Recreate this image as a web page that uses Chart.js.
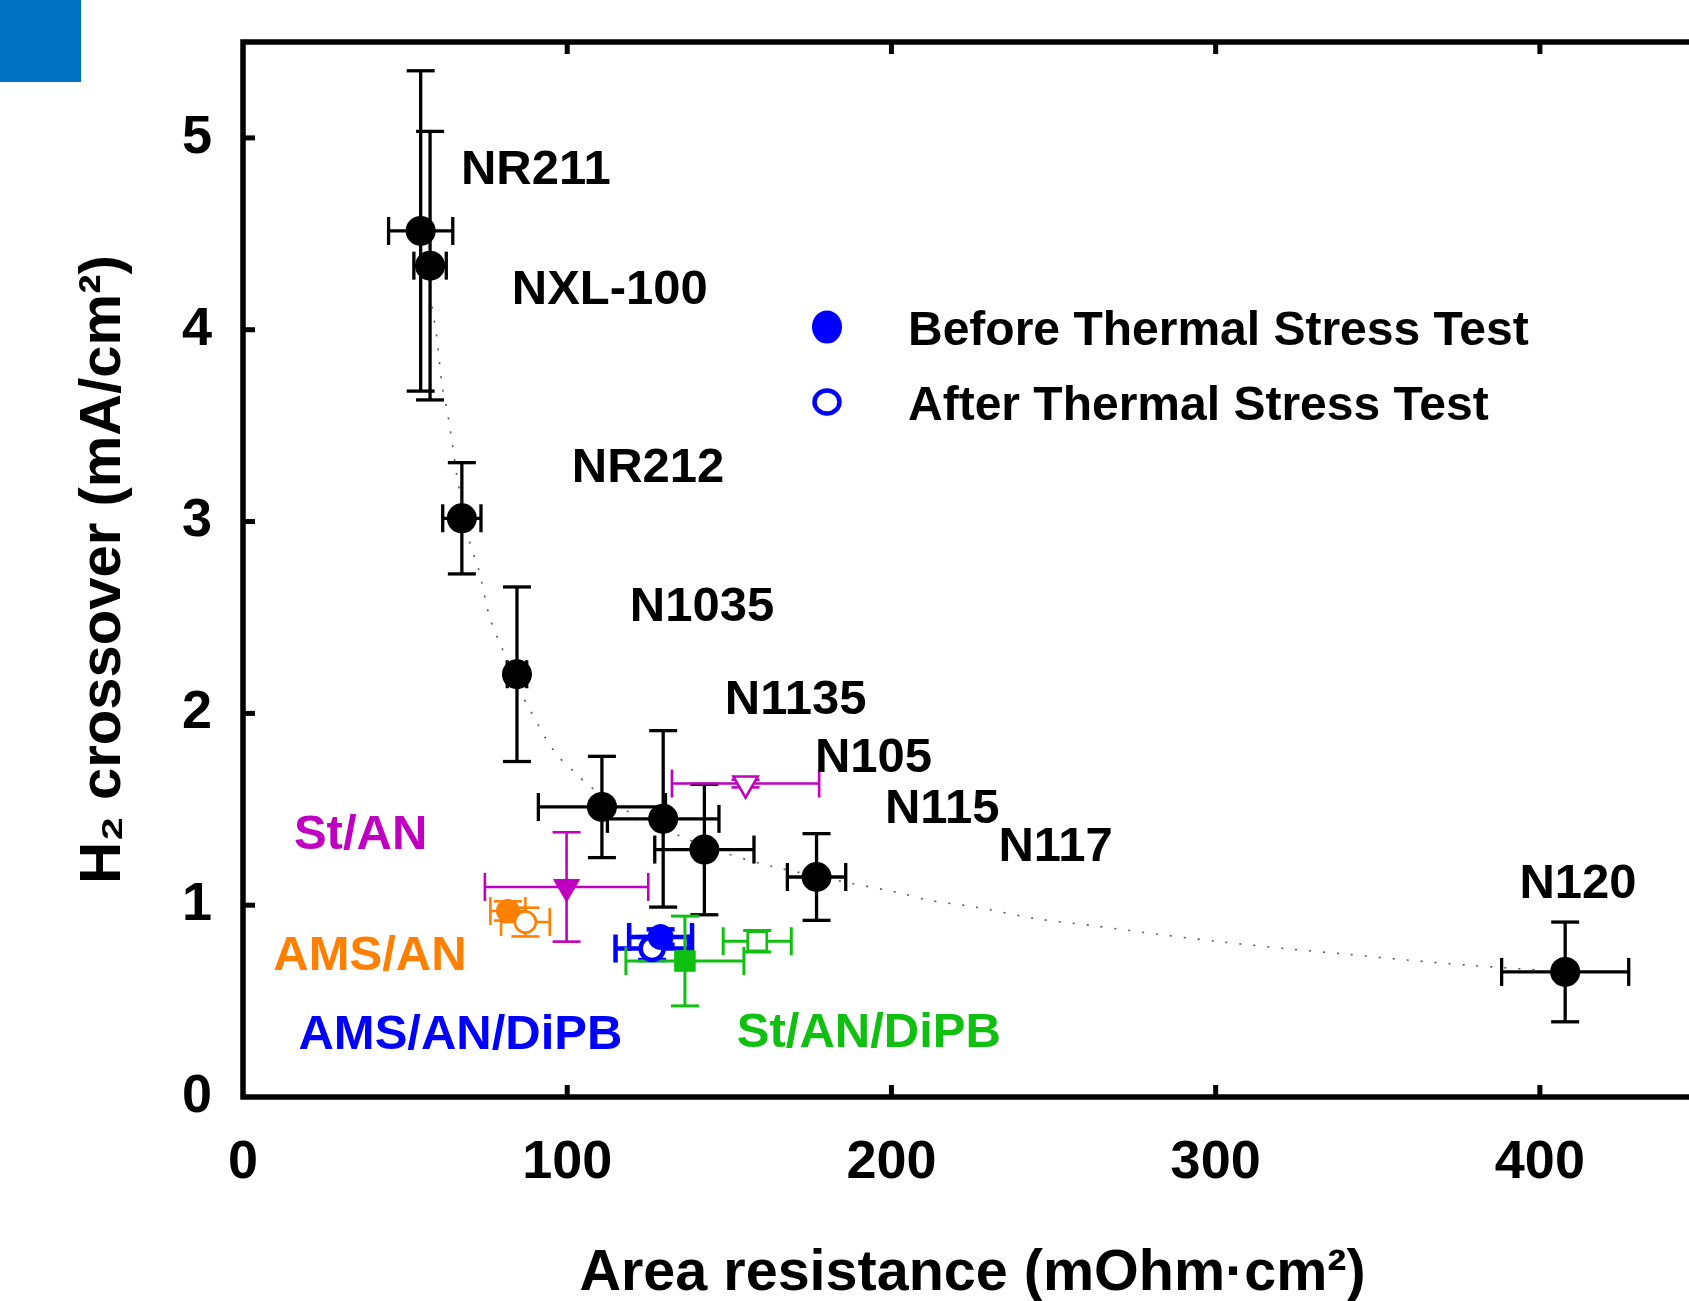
<!DOCTYPE html>
<html><head><meta charset="utf-8">
<script src="https://cdn.jsdelivr.net/npm/chart.js@4/dist/chart.umd.min.js"></script>
<style>
html,body{margin:0;padding:0;overflow:hidden;background:#fff;width:1689px;height:1301px;}
#wrap{position:absolute;left:0;top:0;width:1720px;height:1330px;}
#corner{position:absolute;left:0;top:0;width:81px;height:82px;background:#0070c0;}
</style></head><body>
<div id="wrap"><canvas id="c" width="1720" height="1330"></canvas></div>
<div id="corner"></div>
<script>
// ---------- data ----------
const membranes   = ['NR211','NXL-100','NR212','N1035','N1135','N105','N115','N117','N120'];
const membraneR   = [54.8, 57.7, 67.5, 84.5, 110.7, 129.6, 142.3, 176.9, 407.8];
const membraneRErr= [9.9, 5.0, 5.9, 3.0, 19.6, 17.2, 15.3, 9.0, 19.6];
const membraneH2  = [4.515, 4.334, 3.017, 2.204, 1.512, 1.45, 1.29, 1.147, 0.652];
const membraneH2Err=[0.835, 0.70, 0.29, 0.455, 0.264, 0.46, 0.34, 0.226, 0.26];

const copolymers  = ['St/AN','AMS/AN','AMS/AN/DiPB','St/AN/DiPB'];
const beforeR     = [99.8, 81.7, 128.8, 136.3];
const beforeRErr  = [25.2, 5.4, 9.7, 18.2];
const beforeH2    = [1.095, 0.970, 0.834, 0.709];
const beforeH2Err = [0.285, 0.05, 0.04, 0.234];
const afterR      = [155.0, 87.1, 126.2, 158.6];
const afterRErr   = [22.7, 7.5, 11.3, 10.5];
const afterH2     = [1.634, 0.912, 0.774, 0.812];
const afterH2Err  = [0.02, 0.075, 0.06, 0.056];

// dotted trend curve
const fitR  = [58.3, 59.8, 61.4, 63.2, 64.7, 66.0, 69.8, 72.7, 76.1, 79.9, 85.6, 88.5, 93.8, 97.4, 102.1, 106.6, 113.0, 121.5, 135.4, 149.8, 163.7, 187.9, 202.3, 211.6, 225.9, 244.5, 263.7, 282.9, 302.1, 321.3, 340.5, 359.7, 378.9, 408.0];
const fitH2 = [4.12, 3.956, 3.71, 3.555, 3.39, 3.234, 2.90, 2.75, 2.50, 2.34, 2.11, 2.02, 1.857, 1.773, 1.695, 1.625, 1.55, 1.462, 1.356, 1.266, 1.20, 1.113, 1.065, 1.026, 0.99, 0.93, 0.89, 0.847, 0.808, 0.774, 0.744, 0.713, 0.686, 0.652];

const xTicks = [0, 100, 200, 300, 400];
const yTicks = [0, 1, 2, 3, 4, 5];
const xTitle = 'Area resistance (mOhm\u00b7cm\u00b2)';
const yTitle = 'H\u2082 crossover (mA/cm\u00b2)';
const legendLabels = ['Before Thermal Stress Test', 'After Thermal Stress Test'];

// ---------- styling ----------
const FONT = "'Liberation Sans', Arial, 'DejaVu Sans', sans-serif";
const groupColors = ['#c000c0', '#ff8000', '#0000ff', '#10c010'];
const groupShapes = ['triangle', 'circle', 'circle', 'rect'];
const groupRadius = [15, 11.5, 12.5, 14.5];
const groupBarWidth = [2.6, 2.6, 4.5, 3];
// label anchors (data units: left edge, vertical centre)
const membraneLabelPos = [[67.2,4.85],[82.9,4.225],[101.4,3.30],[119.3,2.574],[148.6,2.087],[176.4,1.783],[198.0,1.522],[233.0,1.323],[393.7,1.131]];
const groupLabelPos = [[15.7,1.383],[9.35,0.752],[17.1,0.340],[152.3,0.350]];

const pts = (xs, ys) => xs.map((x, i) => ({x, y: ys[i]}));

const datasets = [];
datasets.push({
  label: 'membranes', data: pts(membraneR, membraneH2),
  errX: membraneRErr, errY: membraneH2Err, errColor: '#000', errWidth: 3.3, capHalf: 14,
  pointStyle: 'circle', pointRadius: 15, backgroundColor: '#000', borderColor: '#000', borderWidth: 0
});
copolymers.forEach((g, i) => {
  const rot = groupShapes[i] === 'triangle' ? 180 : 0;
  datasets.push({
    label: g + ' before', data: [{x: beforeR[i], y: beforeH2[i]}],
    errX: [beforeRErr[i]], errY: [beforeH2Err[i]], errColor: groupColors[i], errWidth: groupBarWidth[i], capHalf: 14,
    pointStyle: groupShapes[i], rotation: rot, pointRadius: groupRadius[i],
    backgroundColor: groupColors[i], borderColor: groupColors[i], borderWidth: 1
  });
  datasets.push({
    label: g + ' after', data: [{x: afterR[i], y: afterH2[i]}],
    errX: [afterRErr[i]], errY: [afterH2Err[i]], errColor: groupColors[i], errWidth: groupBarWidth[i], capHalf: 14,
    pointStyle: groupShapes[i], rotation: rot, pointRadius: groupRadius[i] - 1,
    backgroundColor: '#ffffff', borderColor: groupColors[i], borderWidth: i === 2 ? 4.5 : 2.6
  });
});
datasets.push({
  type: 'line', label: 'trend', data: pts(fitR, fitH2),
  borderColor: 'rgba(60,60,60,0.85)', borderWidth: 1.6, borderDash: [2, 12],
  pointRadius: 0, fill: false, tension: 0.3
});

function seg(ctx, x1, y1, x2, y2) { ctx.beginPath(); ctx.moveTo(x1, y1); ctx.lineTo(x2, y2); ctx.stroke(); }

const errorBarPlugin = {
  id: 'errorBars',
  beforeDatasetsDraw(chart) {
    const {ctx, scales: {x, y}} = chart;
    chart.data.datasets.forEach(ds => {
      if (!ds.errX) return;
      ctx.save();
      ctx.strokeStyle = ds.errColor; ctx.lineWidth = ds.errWidth; ctx.lineCap = 'butt';
      ds.data.forEach((p, i) => {
        const px = x.getPixelForValue(p.x), py = y.getPixelForValue(p.y), c = ds.capHalf;
        const ex = ds.errX[i], ey = ds.errY[i];
        if (ex > 0) {
          const l = x.getPixelForValue(p.x - ex), r = x.getPixelForValue(p.x + ex);
          seg(ctx, l, py, r, py); seg(ctx, l, py - c, l, py + c); seg(ctx, r, py - c, r, py + c);
        }
        if (ey > 0) {
          const t = y.getPixelForValue(p.y + ey), b = y.getPixelForValue(p.y - ey);
          seg(ctx, px, t, px, b); seg(ctx, px - c, t, px + c, t); seg(ctx, px - c, b, px + c, b);
        }
      });
      ctx.restore();
    });
  }
};

const decorPlugin = {
  id: 'decor',
  afterDraw(chart) {
    const {ctx, chartArea: a, scales: {x, y}} = chart;
    ctx.save();
    // frame
    ctx.strokeStyle = '#000'; ctx.lineWidth = 5.5;
    ctx.strokeRect(a.left, a.top, a.right - a.left, a.bottom - a.top);
    // inward ticks
    const tl = 12; ctx.lineWidth = 5;
    xTicks.forEach(v => { if (v === 0) return; const px = x.getPixelForValue(v);
      seg(ctx, px, a.bottom, px, a.bottom - tl); seg(ctx, px, a.top, px, a.top + tl); });
    yTicks.forEach(v => { if (v === 0) return; const py = y.getPixelForValue(v);
      seg(ctx, a.left, py, a.left + tl, py); seg(ctx, a.right, py, a.right - tl, py); });
    // labels
    ctx.textAlign = 'left'; ctx.textBaseline = 'alphabetic';
    ctx.font = 'bold 49px ' + FONT;
    ctx.fillStyle = '#000';
    membranes.forEach((m, i) => {
      const [lx, ly] = membraneLabelPos[i];
      ctx.fillText(m, x.getPixelForValue(lx), y.getPixelForValue(ly) + 17.5);
    });
    copolymers.forEach((g, i) => {
      const [lx, ly] = groupLabelPos[i];
      ctx.fillStyle = groupColors[i];
      ctx.fillText(g, x.getPixelForValue(lx), y.getPixelForValue(ly) + 17.5);
    });
    // legend
    ctx.font = 'bold 48px ' + FONT;
    const lgX = a.left + 584, lgY = [a.top + 285, a.top + 360];
    ctx.fillStyle = '#0000ff'; ctx.strokeStyle = '#0000ff';
    ctx.beginPath(); ctx.ellipse(lgX, lgY[0], 15, 16.5, 0, 0, Math.PI * 2); ctx.fill();
    ctx.lineWidth = 4.5; ctx.fillStyle = '#fff';
    ctx.beginPath(); ctx.ellipse(lgX, lgY[1], 12.5, 11.5, 0, 0, Math.PI * 2); ctx.fill(); ctx.stroke();
    ctx.fillStyle = '#000';
    legendLabels.forEach((t, i) => ctx.fillText(t, lgX + 81, lgY[i] + 18));
    ctx.restore();
  }
};

new Chart(document.getElementById('c'), {
  type: 'scatter',
  data: {datasets},
  options: {
    responsive: false, animation: false, devicePixelRatio: 1,
    layout: {padding: {top: 42, right: 18, left: 0, bottom: 0}},
    plugins: {legend: {display: false}, tooltip: {enabled: false}},
    scales: {
      x: {
        type: 'linear', min: 0, max: 450, position: 'bottom',
        afterFit: s => { s.height = 233; s.paddingLeft = 0; s.paddingRight = 0; },
        afterBuildTicks: s => { s.ticks = xTicks.map(v => ({value: v})); },
        grid: {display: false, drawTicks: false}, border: {display: false},
        ticks: {font: {family: FONT, size: 54, weight: 'bold'}, color: '#000', padding: 34, maxRotation: 0, autoSkip: false},
        title: {display: true, text: xTitle, color: '#000', font: {family: FONT, size: 57.5, weight: 'bold'}, padding: {top: 0, bottom: 21}}
      },
      y: {
        type: 'linear', min: 0, max: 5.5,
        afterFit: s => { s.width = 243; s.paddingTop = 0; s.paddingBottom = 0; },
        afterBuildTicks: s => { s.ticks = yTicks.map(v => ({value: v})); },
        grid: {display: false, drawTicks: false}, border: {display: false},
        ticks: {font: {family: FONT, size: 54, weight: 'bold'}, color: '#000', padding: 31, autoSkip: false},
        title: {display: true, text: yTitle, color: '#000', font: {family: FONT, size: 58, weight: 'bold'}, padding: {top: 69, bottom: 0}}
      }
    }
  },
  plugins: [errorBarPlugin, decorPlugin]
});
</script>
</body></html>
